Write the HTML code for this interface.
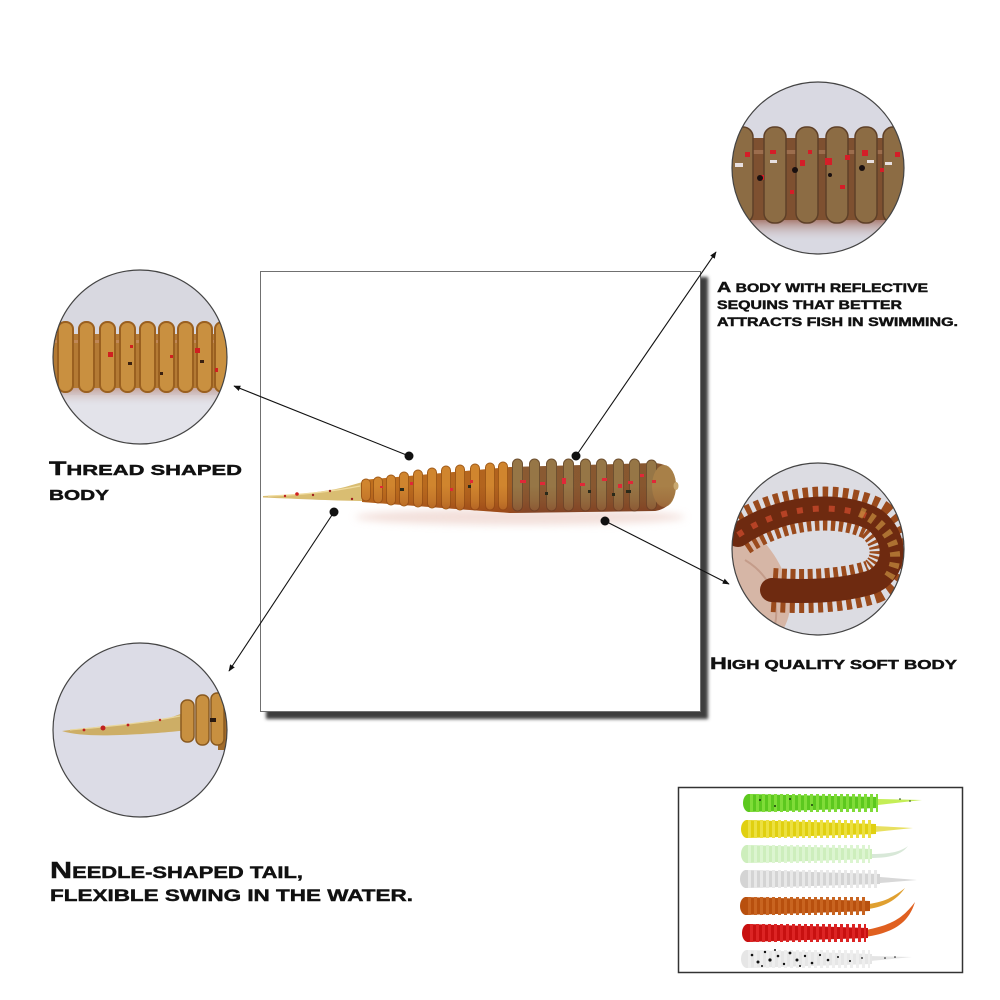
<!DOCTYPE html>
<html><head><meta charset="utf-8"><style>
html,body{margin:0;padding:0;background:#fff;}
svg{display:block;}
text{font-family:"Liberation Sans",sans-serif;font-weight:bold;fill:#111;stroke:#111;stroke-width:0.45;}
</style></head><body>
<svg width="1000" height="1000" viewBox="0 0 1000 1000" xmlns="http://www.w3.org/2000/svg">
<defs>
<filter id="blur2" x="-10%" y="-10%" width="120%" height="120%"><feGaussianBlur stdDeviation="1.6"/></filter>
<filter id="blur4" x="-20%" y="-50%" width="140%" height="200%"><feGaussianBlur stdDeviation="4"/></filter>
<clipPath id="c1"><circle cx="818" cy="168" r="86"/></clipPath>
<clipPath id="c2"><circle cx="140" cy="357" r="87"/></clipPath>
<clipPath id="c3"><circle cx="140" cy="730" r="87"/></clipPath>
<clipPath id="c4"><circle cx="818" cy="549" r="86"/></clipPath>
<clipPath id="wbody"><path d="M362,480 L510,467 L655,463 C672,464 676,476 676,486 C675,500 668,509 655,511 L510,513 L362,502 Z"/></clipPath>
<linearGradient id="bodyGrad" x1="0" y1="0" x2="1" y2="0">
<stop offset="0" stop-color="#c0701e"/><stop offset="0.45" stop-color="#b0621e"/><stop offset="0.52" stop-color="#8a5a32"/><stop offset="1" stop-color="#86562e"/>
</linearGradient>
<linearGradient id="shadeV" x1="0" y1="0" x2="0" y2="1">
<stop offset="0" stop-color="#7a2010" stop-opacity="0"/><stop offset="0.5" stop-color="#7a2010" stop-opacity="0.15"/><stop offset="1" stop-color="#7a2010" stop-opacity="0.45"/>
</linearGradient>
<linearGradient id="sh1" x1="0" y1="0" x2="0" y2="1">
<stop offset="0" stop-color="#9a6050" stop-opacity="0.9"/><stop offset="1" stop-color="#d9d9e2" stop-opacity="0"/>
</linearGradient>
<linearGradient id="sh2" x1="0" y1="0" x2="0" y2="1">
<stop offset="0" stop-color="#c09080" stop-opacity="0.9"/><stop offset="1" stop-color="#d8d8e0" stop-opacity="0"/>
</linearGradient>
<marker id="arr" viewBox="0 0 10 10" refX="9" refY="5" markerWidth="7" markerHeight="7" orient="auto" markerUnits="userSpaceOnUse">
<path d="M0,1 L10,5 L0,9 Z" fill="#111"/>
</marker>
</defs>

<rect width="1000" height="1000" fill="#fff"/>

<!-- Main box -->
<rect x="266" y="277" width="442" height="442" fill="#3e3e3e" filter="url(#blur2)"/>
<rect x="260.5" y="271.5" width="440" height="440" fill="#fff" stroke="#707070" stroke-width="1"/>

<!-- Main worm -->
<g>
<ellipse cx="520" cy="517" rx="165" ry="8" fill="#e6c0b6" opacity="0.5" filter="url(#blur4)"/>
<path d="M263,496 C290,495 320,493 345,487 L366,481 L366,501 C340,501 300,499 263,497.5 Z" fill="#d9bd72"/>
<path d="M268,496 C300,495 330,492 360,486" stroke="#f0dca0" stroke-width="1.2" fill="none"/>
<circle cx="285" cy="496" r="1.2" fill="#c02020"/><circle cx="297" cy="494" r="1.8" fill="#d02020"/><circle cx="313" cy="495" r="1.2" fill="#a02020"/><circle cx="330" cy="491" r="1.2" fill="#a02020"/><circle cx="352" cy="499" r="1.2" fill="#a02020"/>
<path d="M362,480 L510,467 L655,463 C672,464 676,476 676,486 C675,500 668,509 655,511 L510,513 L362,502 Z" fill="url(#bodyGrad)"/>
<g fill="#d0852e" stroke="#a05a18" stroke-width="1">
<rect x="361.5" y="479" width="9" height="22" rx="4.5"/>
<rect x="373.5" y="477" width="9" height="26" rx="4.5"/>
<rect x="386.5" y="475" width="9" height="30" rx="4.5"/>
<rect x="399.5" y="472" width="9" height="34" rx="4.5"/>
<rect x="413.5" y="470" width="9" height="37" rx="4.5"/>
<rect x="427.5" y="468" width="9" height="40" rx="4.5"/>
<rect x="441.5" y="466" width="9" height="43" rx="4.5"/>
<rect x="455.5" y="465" width="9" height="45" rx="4.5"/>
<rect x="470.5" y="464" width="9" height="46" rx="4.5"/>
<rect x="485.5" y="463" width="9" height="47" rx="4.5"/>
<rect x="498.5" y="462" width="9" height="48" rx="4.5"/>
</g>
<g fill="#967646" stroke="#6e5030" stroke-width="1">
<rect x="512.5" y="459" width="10" height="52" rx="5"/>
<rect x="529.5" y="459" width="10" height="52" rx="5"/>
<rect x="546.5" y="459" width="10" height="52" rx="5"/>
<rect x="563.5" y="459" width="10" height="52" rx="5"/>
<rect x="580.5" y="459" width="10" height="52" rx="5"/>
<rect x="596.5" y="459" width="10" height="52" rx="5"/>
<rect x="613.5" y="459" width="10" height="52" rx="5"/>
<rect x="629.5" y="459" width="10" height="52" rx="5"/>
<rect x="646.5" y="460" width="10" height="50" rx="5"/>
</g>
<ellipse cx="664" cy="486" rx="12" ry="21" fill="#a88048"/>
<ellipse cx="676" cy="486" rx="2.5" ry="4" fill="#c8a870"/>
<rect x="355" y="486" width="330" height="30" fill="url(#shadeV)" clip-path="url(#wbody)"/>
<g fill="#e02838">
<rect x="520" y="480" width="6" height="3"/><rect x="540" y="482" width="5" height="3"/><rect x="562" y="478" width="4" height="6"/><rect x="580" y="483" width="5" height="3"/><rect x="602" y="478" width="5" height="3"/><rect x="618" y="484" width="4" height="4"/><rect x="628" y="481" width="5" height="3"/><rect x="640" y="474" width="4" height="3"/><rect x="652" y="480" width="4" height="3"/>
<rect x="410" y="482" width="3" height="3"/><rect x="450" y="488" width="3" height="3"/><rect x="470" y="480" width="3" height="3"/><rect x="380" y="486" width="3" height="2"/>
</g>
<g fill="#2a2a1a">
<rect x="400" y="488" width="4" height="3"/><rect x="468" y="485" width="3" height="3"/><rect x="545" y="492" width="3" height="3"/><rect x="588" y="490" width="3" height="3"/><rect x="626" y="490" width="5" height="3"/><rect x="612" y="493" width="3" height="3"/>
</g>
</g>

<!-- Connectors -->
<g stroke="#111" stroke-width="1.1" fill="none">
<line x1="409" y1="456" x2="234" y2="386" marker-end="url(#arr)"/>
<line x1="576" y1="456" x2="716" y2="252" marker-end="url(#arr)"/>
<line x1="334" y1="512" x2="229" y2="671" marker-end="url(#arr)"/>
<line x1="605" y1="521" x2="729" y2="584" marker-end="url(#arr)"/>
</g>
<g fill="#111">
<circle cx="409" cy="456" r="4.5"/><circle cx="576" cy="456" r="4.5"/><circle cx="334" cy="512" r="4.5"/><circle cx="605" cy="521" r="4.5"/>
</g>

<!-- Circle 1: top right -->
<g clip-path="url(#c1)">
<rect x="720" y="70" width="200" height="200" fill="#d9d9e2"/>
<rect x="720" y="218" width="200" height="24" fill="url(#sh1)"/>
<rect x="720" y="138" width="200" height="82" fill="#7e5030"/>
<rect x="720" y="150" width="200" height="4" fill="#b08060" opacity="0.6"/>
<g fill="#8c6c44" stroke="#5e4028" stroke-width="1.5">
<rect x="731" y="127" width="22" height="96" rx="10"/>
<rect x="764" y="127" width="22" height="96" rx="10"/>
<rect x="796" y="127" width="22" height="96" rx="10"/>
<rect x="826" y="127" width="22" height="96" rx="10"/>
<rect x="855" y="127" width="22" height="96" rx="10"/>
<rect x="883" y="127" width="22" height="96" rx="10"/>
</g>
<g fill="#d41e28">
<rect x="745" y="152" width="5" height="5"/><rect x="770" y="150" width="6" height="4"/><rect x="800" y="160" width="5" height="6"/><rect x="808" y="150" width="4" height="4"/><rect x="825" y="158" width="7" height="7"/><rect x="845" y="155" width="5" height="5"/><rect x="862" y="150" width="6" height="6"/><rect x="880" y="168" width="4" height="4"/><rect x="895" y="152" width="5" height="5"/><rect x="760" y="175" width="4" height="5"/><rect x="790" y="190" width="4" height="4"/><rect x="840" y="185" width="5" height="4"/>
</g>
<g fill="#e8e0e0"><rect x="735" y="163" width="8" height="4"/><rect x="770" y="160" width="7" height="3"/><rect x="867" y="160" width="7" height="3"/><rect x="885" y="162" width="7" height="3"/></g>
<g fill="#1a1010"><circle cx="760" cy="178" r="3"/><circle cx="795" cy="170" r="3"/><circle cx="862" cy="168" r="3"/><circle cx="830" cy="175" r="2"/></g>
</g>
<circle cx="818" cy="168" r="86" fill="none" stroke="#444" stroke-width="1.2"/>

<!-- Circle 2: left -->
<g clip-path="url(#c2)">
<rect x="50" y="268" width="180" height="180" fill="#d8d8e0"/>
<rect x="50" y="395" width="180" height="55" fill="#e3e3ea"/>
<rect x="50" y="386" width="180" height="20" fill="url(#sh2)"/>
<rect x="50" y="334" width="180" height="54" fill="#b47a34"/>
<rect x="50" y="340" width="180" height="3" fill="#c08858"/>
<g fill="#c99040" stroke="#9a6020" stroke-width="2">
<rect x="58" y="322" width="15" height="70" rx="7"/>
<rect x="79" y="322" width="15" height="70" rx="7"/>
<rect x="100" y="322" width="15" height="70" rx="7"/>
<rect x="120" y="322" width="15" height="70" rx="7"/>
<rect x="140" y="322" width="15" height="70" rx="7"/>
<rect x="159" y="322" width="15" height="70" rx="7"/>
<rect x="178" y="322" width="15" height="70" rx="7"/>
<rect x="197" y="322" width="15" height="70" rx="7"/>
<rect x="215" y="322" width="15" height="70" rx="7"/>
</g>
<g fill="#d02020"><rect x="108" y="352" width="5" height="5"/><rect x="195" y="348" width="5" height="5"/><rect x="130" y="345" width="3" height="3"/><rect x="170" y="355" width="3" height="3"/><rect x="215" y="368" width="3" height="4"/></g>
<g fill="#3a2010"><rect x="128" y="362" width="4" height="3"/><rect x="200" y="360" width="4" height="3"/><rect x="160" y="372" width="3" height="3"/></g>
</g>
<circle cx="140" cy="357" r="87" fill="none" stroke="#444" stroke-width="1.2"/>

<!-- Circle 3: bottom left -->
<g clip-path="url(#c3)">
<rect x="50" y="640" width="180" height="180" fill="#dcdce6"/>
<path d="M62,731 C90,727 120,725 150,722 C165,720 176,716 188,711 L189,730 C170,732 150,734 120,735 C95,736 75,735 62,731 Z" fill="#cdae66"/>
<path d="M70,730 C100,727 140,724 180,716" stroke="#e8d69c" stroke-width="1.2" fill="none"/>
<rect x="218" y="690" width="20" height="60" fill="#a06a2a"/>
<g fill="#c89040" stroke="#8a5a20" stroke-width="1.5">
<rect x="181" y="700" width="13" height="42" rx="6"/>
<rect x="196" y="695" width="13" height="50" rx="6"/>
<rect x="211" y="693" width="13" height="52" rx="6"/>
</g>
<g fill="#c02020"><circle cx="84" cy="730" r="1.4"/><circle cx="103" cy="728" r="2.5"/><circle cx="128" cy="725" r="1.4"/><circle cx="160" cy="720" r="1.2"/></g>
<rect x="210" y="718" width="6" height="4" fill="#2a1a10"/>
</g>
<circle cx="140" cy="730" r="87" fill="none" stroke="#444" stroke-width="1.2"/>

<!-- Circle 4: right -->
<g clip-path="url(#c4)">
<rect x="728" y="460" width="180" height="180" fill="#dcdce2"/>
<path d="M728,515 C755,525 785,560 790,595 C792,615 785,630 775,640 L728,640 Z" fill="#d6b6a6"/>
<path d="M745,560 C770,575 780,600 775,625" stroke="#c49c8a" stroke-width="2" fill="none"/>
<path d="M738,535 C790,500 850,505 875,520 C900,540 895,572 872,582 C840,592 800,592 772,590" stroke="#9a4a1c" stroke-width="44" stroke-dasharray="5 4" fill="none"/>
<path d="M738,535 C790,500 850,505 875,520 C900,540 895,572 872,582 C840,592 800,592 772,590" stroke="#6e2a10" stroke-width="24" fill="none" stroke-linecap="round"/>
<path d="M738,535 C790,500 850,505 875,520" stroke="#c8482a" stroke-width="6" stroke-dasharray="6 10" fill="none" opacity="0.8"/>
<path d="M860,512 C890,525 905,555 888,578" stroke="#c89040" stroke-width="10" stroke-dasharray="5 6" fill="none" opacity="0.7"/>
</g>
<circle cx="818" cy="549" r="86" fill="none" stroke="#444" stroke-width="1.2"/>

<!-- Texts -->
<text x="717" y="292" textLength="211" lengthAdjust="spacingAndGlyphs"><tspan font-size="15">A</tspan><tspan font-size="12"> BODY WITH REFLECTIVE</tspan></text>
<text x="717" y="309" textLength="185" lengthAdjust="spacingAndGlyphs" font-size="12">SEQUINS THAT BETTER</text>
<text x="717" y="326" textLength="241" lengthAdjust="spacingAndGlyphs" font-size="12">ATTRACTS FISH IN SWIMMING.</text>

<text x="49" y="475" textLength="193" lengthAdjust="spacingAndGlyphs"><tspan font-size="19.5">T</tspan><tspan font-size="15">HREAD SHAPED</tspan></text>
<text x="49" y="500" textLength="60" lengthAdjust="spacingAndGlyphs" font-size="15">BODY</text>

<text x="710" y="669" textLength="247" lengthAdjust="spacingAndGlyphs"><tspan font-size="16.5">H</tspan><tspan font-size="13">IGH QUALITY SOFT BODY</tspan></text>

<text x="50" y="878" textLength="253" lengthAdjust="spacingAndGlyphs"><tspan font-size="23">N</tspan><tspan font-size="16.5">EEDLE-SHAPED TAIL,</tspan></text>
<text x="50" y="901" textLength="363" lengthAdjust="spacingAndGlyphs" font-size="16.5">FLEXIBLE SWING IN THE WATER.</text>

<!-- Bottom right box -->
<rect x="678.5" y="787.5" width="284" height="185" fill="#fff" stroke="#333" stroke-width="1.5"/>
<g>
<!-- 1 green -->
<path d="M922,800 L878,799 L878,805 Z" fill="#c4ee56"/>
<path d="M748,794 L878,797 L878,808 L748,812 Z" fill="#5cc81e"/>
<ellipse cx="749" cy="803" rx="6" ry="9" fill="#5cc81e"/>
<path d="M750,803 L878,803" stroke="#80dc38" stroke-width="18" stroke-dasharray="3 3"/>
<g fill="#1a3a10"><circle cx="760" cy="800" r="1"/><circle cx="775" cy="806" r="1"/><circle cx="790" cy="799" r="1"/><circle cx="812" cy="805" r="1"/><circle cx="900" cy="799" r="0.8"/><circle cx="910" cy="801" r="0.8"/></g>
<!-- 2 yellow -->
<path d="M913,828 L875,826 L875,832 Z" fill="#e8e060"/>
<path d="M746,820 L876,824 L876,834 L746,838 Z" fill="#e0d010"/>
<ellipse cx="747" cy="829" rx="6" ry="9" fill="#e0d010"/>
<path d="M748,829 L874,829" stroke="#ece040" stroke-width="18" stroke-dasharray="3 3"/>
<!-- 3 pale green -->
<path d="M908,846 C900,852 890,854 870,854 L870,858 C892,858 902,854 908,846 Z" fill="#d8e8d8"/>
<path d="M746,845 L872,849 L872,859 L746,863 Z" fill="#cdeebc"/>
<ellipse cx="747" cy="854" rx="6" ry="9" fill="#cdeebc"/>
<path d="M748,854 L870,854" stroke="#dcf5d0" stroke-width="18" stroke-dasharray="3 3"/>
<!-- 4 white -->
<path d="M917,880 L880,877 L880,883 Z" fill="#d8d8d8"/>
<path d="M745,870 L880,874 L880,884 L745,888 Z" fill="#d4d4d4"/>
<ellipse cx="746" cy="879" rx="6" ry="9" fill="#d4d4d4"/>
<path d="M748,879 L878,879" stroke="#e8e8e8" stroke-width="18" stroke-dasharray="3 3"/>
<!-- 5 orange -->
<path d="M905,888 C895,896 885,902 868,904 L868,909 C888,906 898,898 905,888 Z" fill="#e0a030"/>
<path d="M745,897 L870,901 L870,911 L745,915 Z" fill="#b8500e"/>
<ellipse cx="746" cy="906" rx="6" ry="9" fill="#b8500e"/>
<path d="M748,906 L868,906" stroke="#c86420" stroke-width="18" stroke-dasharray="3 3"/>
<!-- 6 red -->
<path d="M915,902 C905,915 895,925 865,930 L865,937 C900,932 910,918 915,902 Z" fill="#e06020"/>
<path d="M747,924 L868,928 L868,938 L747,942 Z" fill="#c81010"/>
<ellipse cx="748" cy="933" rx="6" ry="9" fill="#c81010"/>
<path d="M750,933 L866,933" stroke="#dc2424" stroke-width="18" stroke-dasharray="3 3"/>
<!-- 7 speckled -->
<path d="M912,957 L870,956 L870,961 Z" fill="#e4e4e4"/>
<path d="M746,950 L872,954 L872,964 L746,968 Z" fill="#e6e6e6"/>
<ellipse cx="747" cy="959" rx="6" ry="9" fill="#e6e6e6"/>
<path d="M748,959 L870,959" stroke="#eeeeee" stroke-width="18" stroke-dasharray="3 3"/>
<g fill="#111">
<circle cx="752" cy="955" r="1.3"/><circle cx="758" cy="962" r="1.5"/><circle cx="765" cy="952" r="1.2"/><circle cx="770" cy="960" r="1.6"/><circle cx="778" cy="956" r="1.3"/><circle cx="784" cy="964" r="1.2"/><circle cx="790" cy="953" r="1.4"/><circle cx="797" cy="960" r="1.5"/><circle cx="805" cy="956" r="1.2"/><circle cx="812" cy="963" r="1.3"/><circle cx="820" cy="955" r="1.1"/><circle cx="828" cy="960" r="1.3"/><circle cx="838" cy="957" r="1"/><circle cx="850" cy="961" r="1"/><circle cx="862" cy="958" r="0.9"/><circle cx="885" cy="958" r="0.8"/><circle cx="895" cy="957" r="0.8"/><circle cx="762" cy="966" r="1"/><circle cx="775" cy="950" r="1"/><circle cx="800" cy="966" r="1"/>
</g>
</g>
</svg>
</body></html>
